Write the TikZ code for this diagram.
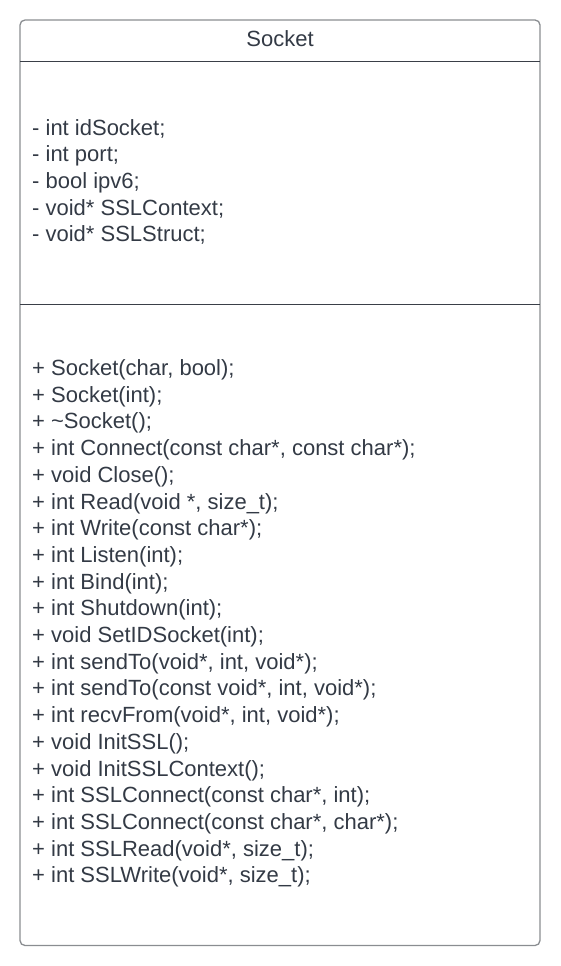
\documentclass[tikz,border=0pt]{standalone}
\usepackage{fontspec}
\setmainfont{Liberation Sans}
\definecolor{txt}{HTML}{333A45}
\definecolor{frame}{HTML}{8A8D91}
\definecolor{sep}{HTML}{3A3F47}
\begin{document}
\begin{tikzpicture}[x=1pt,y=-1pt,
  umltext/.style={inner sep=0pt, anchor=west, align=left, text=txt,
    font=\fontsize{22}{26.7}\selectfont},
  seprule/.style={draw=sep, line width=1pt}]
\useasboundingbox (0,0) rectangle (560,966);
\draw[frame, line width=1.3pt, rounded corners=5pt] (20,20) rectangle (540,945.5) ;
\coordinate (s1l) at (20,62);
\coordinate (s1r) at (540,62);
\coordinate (s2l) at (20,304.5);
\coordinate (s2r) at (540,304.5);
\draw[seprule] (s1l) -- (s1r);
\draw[seprule] (s2l) -- (s2r);
\node[inner sep=0pt, text=txt, font=\fontsize{22}{26.7}\selectfont] (title) at (280,39) {Socket};
\node[umltext] (attrs) at (32,182) {- int idSocket;\\
- int port;\\
- bool ipv6;\\
- void* SSLContext;\\
- void* SSLStruct;};
\node[umltext] (methods) at (32,623.5) {+ Socket(char, bool);\\
+ Socket(int);\\
+ \textasciitilde Socket();\\
+ int Connect(const char*, const char*);\\
+ void Close();\\
+ int Read(void *, size\_t);\\
+ int Write(const char*);\\
+ int Listen(int);\\
+ int Bind(int);\\
+ int Shutdown(int);\\
+ void SetIDSocket(int);\\
+ int sendTo(void*, int, void*);\\
+ int sendTo(const void*, int, void*);\\
+ int recvFrom(void*, int, void*);\\
+ void InitSSL();\\
+ void InitSSLContext();\\
+ int SSLConnect(const char*, int);\\
+ int SSLConnect(const char*, char*);\\
+ int SSLRead(void*, size\_t);\\
+ int SSLWrite(void*, size\_t);};
\end{tikzpicture}
\end{document}
